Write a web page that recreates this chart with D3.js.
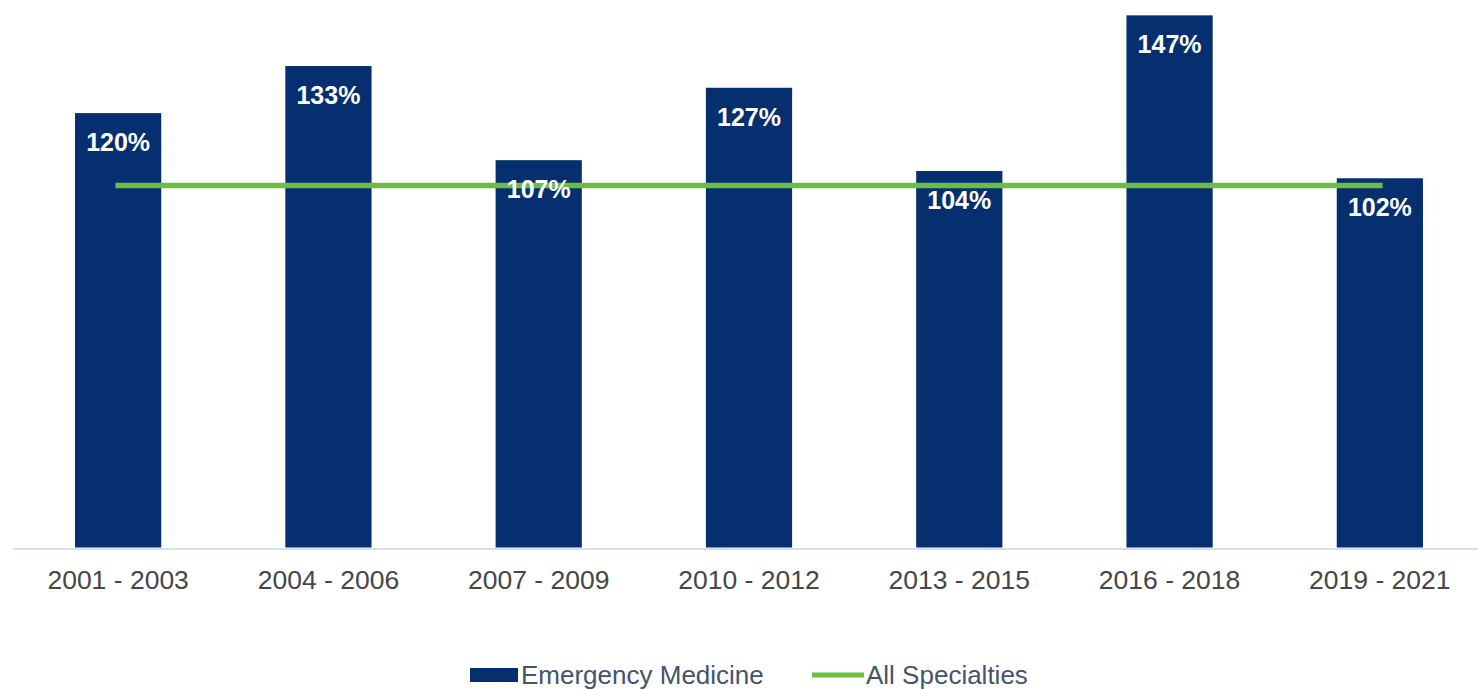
<!DOCTYPE html>
<html>
<head>
<meta charset="utf-8">
<script src="https://cdn.jsdelivr.net/npm/d3@7/dist/d3.min.js"></script>
<style>
  html, body { margin: 0; padding: 0; background: #ffffff; }
  svg { display: block; }
</style>
</head>
<body>
<svg id="chart" width="1478" height="689"></svg>
<script>
// Three-year periods on the x axis
const periods = ["2001 - 2003", "2004 - 2006", "2007 - 2009", "2010 - 2012", "2013 - 2015", "2016 - 2018", "2019 - 2021"];
// Emergency Medicine values (%)
const emergencyMedicine = [120, 133, 107, 127, 104, 147, 102];
// All Specialties reference values (%)
const allSpecialties = [100, 100, 100, 100, 100, 100, 100];
// Legend entries
const seriesNames = ["Emergency Medicine", "All Specialties"];

const W = 1478, H = 689;
const barColor = "#052f6e";
const lineColor = "#6dbd43";
const font = "Arial, 'Liberation Sans', sans-serif";

const svg = d3.select("#chart");

const x = d3.scaleBand()
  .domain(periods)
  .range([13, 1485])
  .paddingInner(0.59)
  .paddingOuter(0.295);

const y = d3.scaleLinear()
  .domain([0, 150])
  .range([547.5, 4.5]);

// Bars
svg.append("g")
  .selectAll("rect")
  .data(periods)
  .join("rect")
  .attr("x", d => x(d))
  .attr("width", x.bandwidth())
  .attr("y", (d, i) => y(emergencyMedicine[i]))
  .attr("height", (d, i) => y(0) - y(emergencyMedicine[i]))
  .attr("fill", barColor);

// Category axis
const xAxis = svg.append("g")
  .attr("transform", `translate(0,${y(0) + 1.5})`)
  .call(d3.axisBottom(x).tickSize(0).tickPadding(21));
xAxis.select(".domain")
  .attr("d", `M13,0H${W}`)
  .attr("stroke", "#d6e0ec")
  .attr("stroke-width", 2);
xAxis.selectAll("text")
  .attr("font-family", font)
  .attr("font-size", 26.5)
  .attr("fill", "#464646");

// All Specialties line
const line = d3.line()
  .x((d, i) => x(periods[i]) + x.bandwidth() / 2)
  .y(d => y(d));
svg.append("path")
  .datum(allSpecialties)
  .attr("d", line)
  .attr("fill", "none")
  .attr("stroke", lineColor)
  .attr("stroke-width", 5.5)
  .attr("stroke-linecap", "square");

// Value labels inside the top of each bar
svg.append("g")
  .selectAll("text")
  .data(periods)
  .join("text")
  .attr("x", d => x(d) + x.bandwidth() / 2)
  .attr("y", (d, i) => y(emergencyMedicine[i]) + 38)
  .attr("text-anchor", "middle")
  .attr("font-family", font)
  .attr("font-weight", "bold")
  .attr("font-size", 25)
  .attr("fill", "#ffffff")
  .text((d, i) => emergencyMedicine[i] + "%");

// Legend
const legend = svg.append("g").attr("font-family", font).attr("font-size", 26).attr("fill", "#44546a");
const lg0 = legend.append("g").attr("transform", "translate(470,0)");
lg0.append("rect").attr("x", 0).attr("y", 668).attr("width", 48).attr("height", 14).attr("fill", barColor);
lg0.append("text").attr("x", 51).attr("y", 684).text(seriesNames[0]);

const lg1 = legend.append("g").attr("transform", "translate(812,0)");
lg1.append("line").attr("x1", 0).attr("x2", 52).attr("y1", 675).attr("y2", 675)
  .attr("stroke", lineColor).attr("stroke-width", 5);
lg1.append("text").attr("x", 54).attr("y", 684).text(seriesNames[1]);
</script>
</body>
</html>
